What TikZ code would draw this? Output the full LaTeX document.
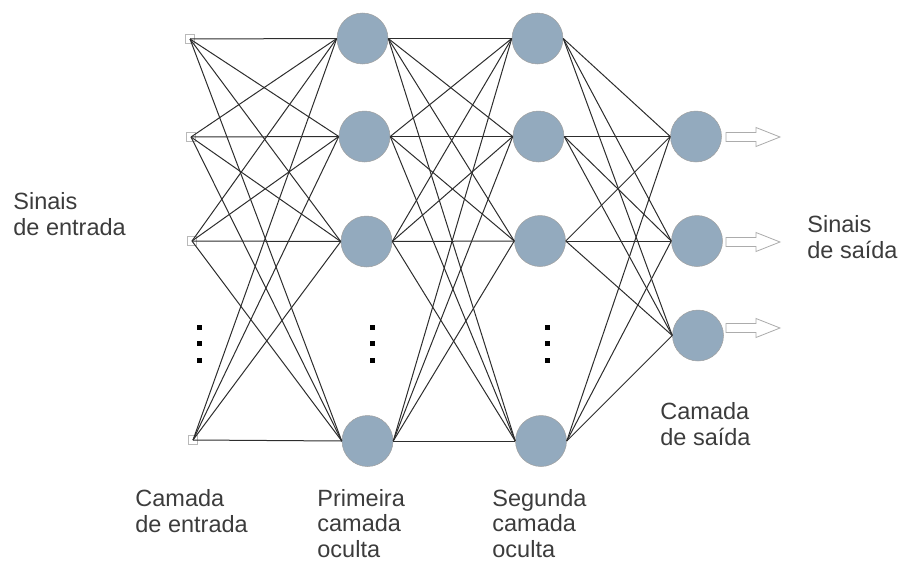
\documentclass[tikz,border=0pt]{standalone}
\usepackage{fontspec}
\setmainfont{Liberation Sans}
\definecolor{neuronblue}{RGB}{147,170,190}
\definecolor{wiregray}{RGB}{45,45,45}
\definecolor{textgray}{RGB}{60,60,60}

\begin{document}
\begin{tikzpicture}[x=1pt,y=-1pt,line width=0.8pt,
  neuron/.style={circle,fill=neuronblue,draw=gray!75,line width=0.5pt,minimum size=51pt,inner sep=0pt},
  entry/.style={rectangle,draw=gray!55,line width=0.8pt,minimum size=9pt,inner sep=0pt},
  wire/.style={draw=wiregray,line width=1pt},
  sigarrow/.style={draw=gray!65,fill=white,line width=0.8pt},
  layertext/.style={anchor=base west,align=left,inner sep=0pt,text=textgray,
    font=\fontsize{23.5}{25.5}\selectfont}]
  \useasboundingbox (0,0) rectangle (902,562);

  % Input terminals.
  \foreach \n/\x/\y in {1/190/39, 2/191/137, 3/192/241, 4/193/440}
    \node[entry] (i\n) at (\x,\y) {};

  % First and second hidden layers.
  \foreach \n/\x/\y in {1/362.5/38.5, 2/364.5/136.5, 3/366.5/241.5, 4/367.5/441}
    \node[neuron] (h\n) at (\x,\y) {};
  \foreach \n/\x/\y in {1/537.5/38.5, 2/538.5/136.5, 3/540/241, 4/541/441}
    \node[neuron] (g\n) at (\x,\y) {};

  % Output layer.
  \foreach \n/\x/\y in {1/696/136.5, 2/697/241, 3/698/335.5}
    \node[neuron] (o\n) at (\x,\y) {};

  % Fully connected weights.
  \foreach \a in {1,...,4}
    \foreach \b in {1,...,4}
      \draw[wire] (i\a.center) -- (h\b.west);
  \foreach \a in {1,...,4}
    \foreach \b in {1,...,4}
      \draw[wire] (h\a.east) -- (g\b.west);
  \foreach \a in {1,...,4}
    \foreach \b in {1,...,3}
      \draw[wire] (g\a.east) -- (o\b.west);

  % Vertical ellipses.
  \foreach \x in {199,372,547}
    \foreach \y in {327,343,360}
      \fill (\x-2.5,\y-2.5) rectangle ++(5,5);

  % Output signals.
  \foreach \y in {137,242,328}
    \draw[sigarrow] (726,\y) ++(0,-4.5) -- ++(30,0) -- ++(0,-5) -- ++(24,9.5)
      -- ++(-24,9.5) -- ++(0,-5) -- ++(-30,0) -- cycle;

  % Labels (anchored at the baseline of the last line).
  \node[layertext] (insig) at (13,235) {Sinais\\de entrada};
  \node[layertext] (outsig) at (807,258) {Sinais\\de saída};
  \node[layertext] (outlay) at (660,445) {Camada\\de saída};
  \node[layertext] (inlay) at (135,532) {Camada\\de entrada};
  \node[layertext] (hidone) at (317,557) {Primeira\\camada\\oculta};
  \node[layertext] (hidtwo) at (492,557) {Segunda\\camada\\oculta};
\end{tikzpicture}
\end{document}
